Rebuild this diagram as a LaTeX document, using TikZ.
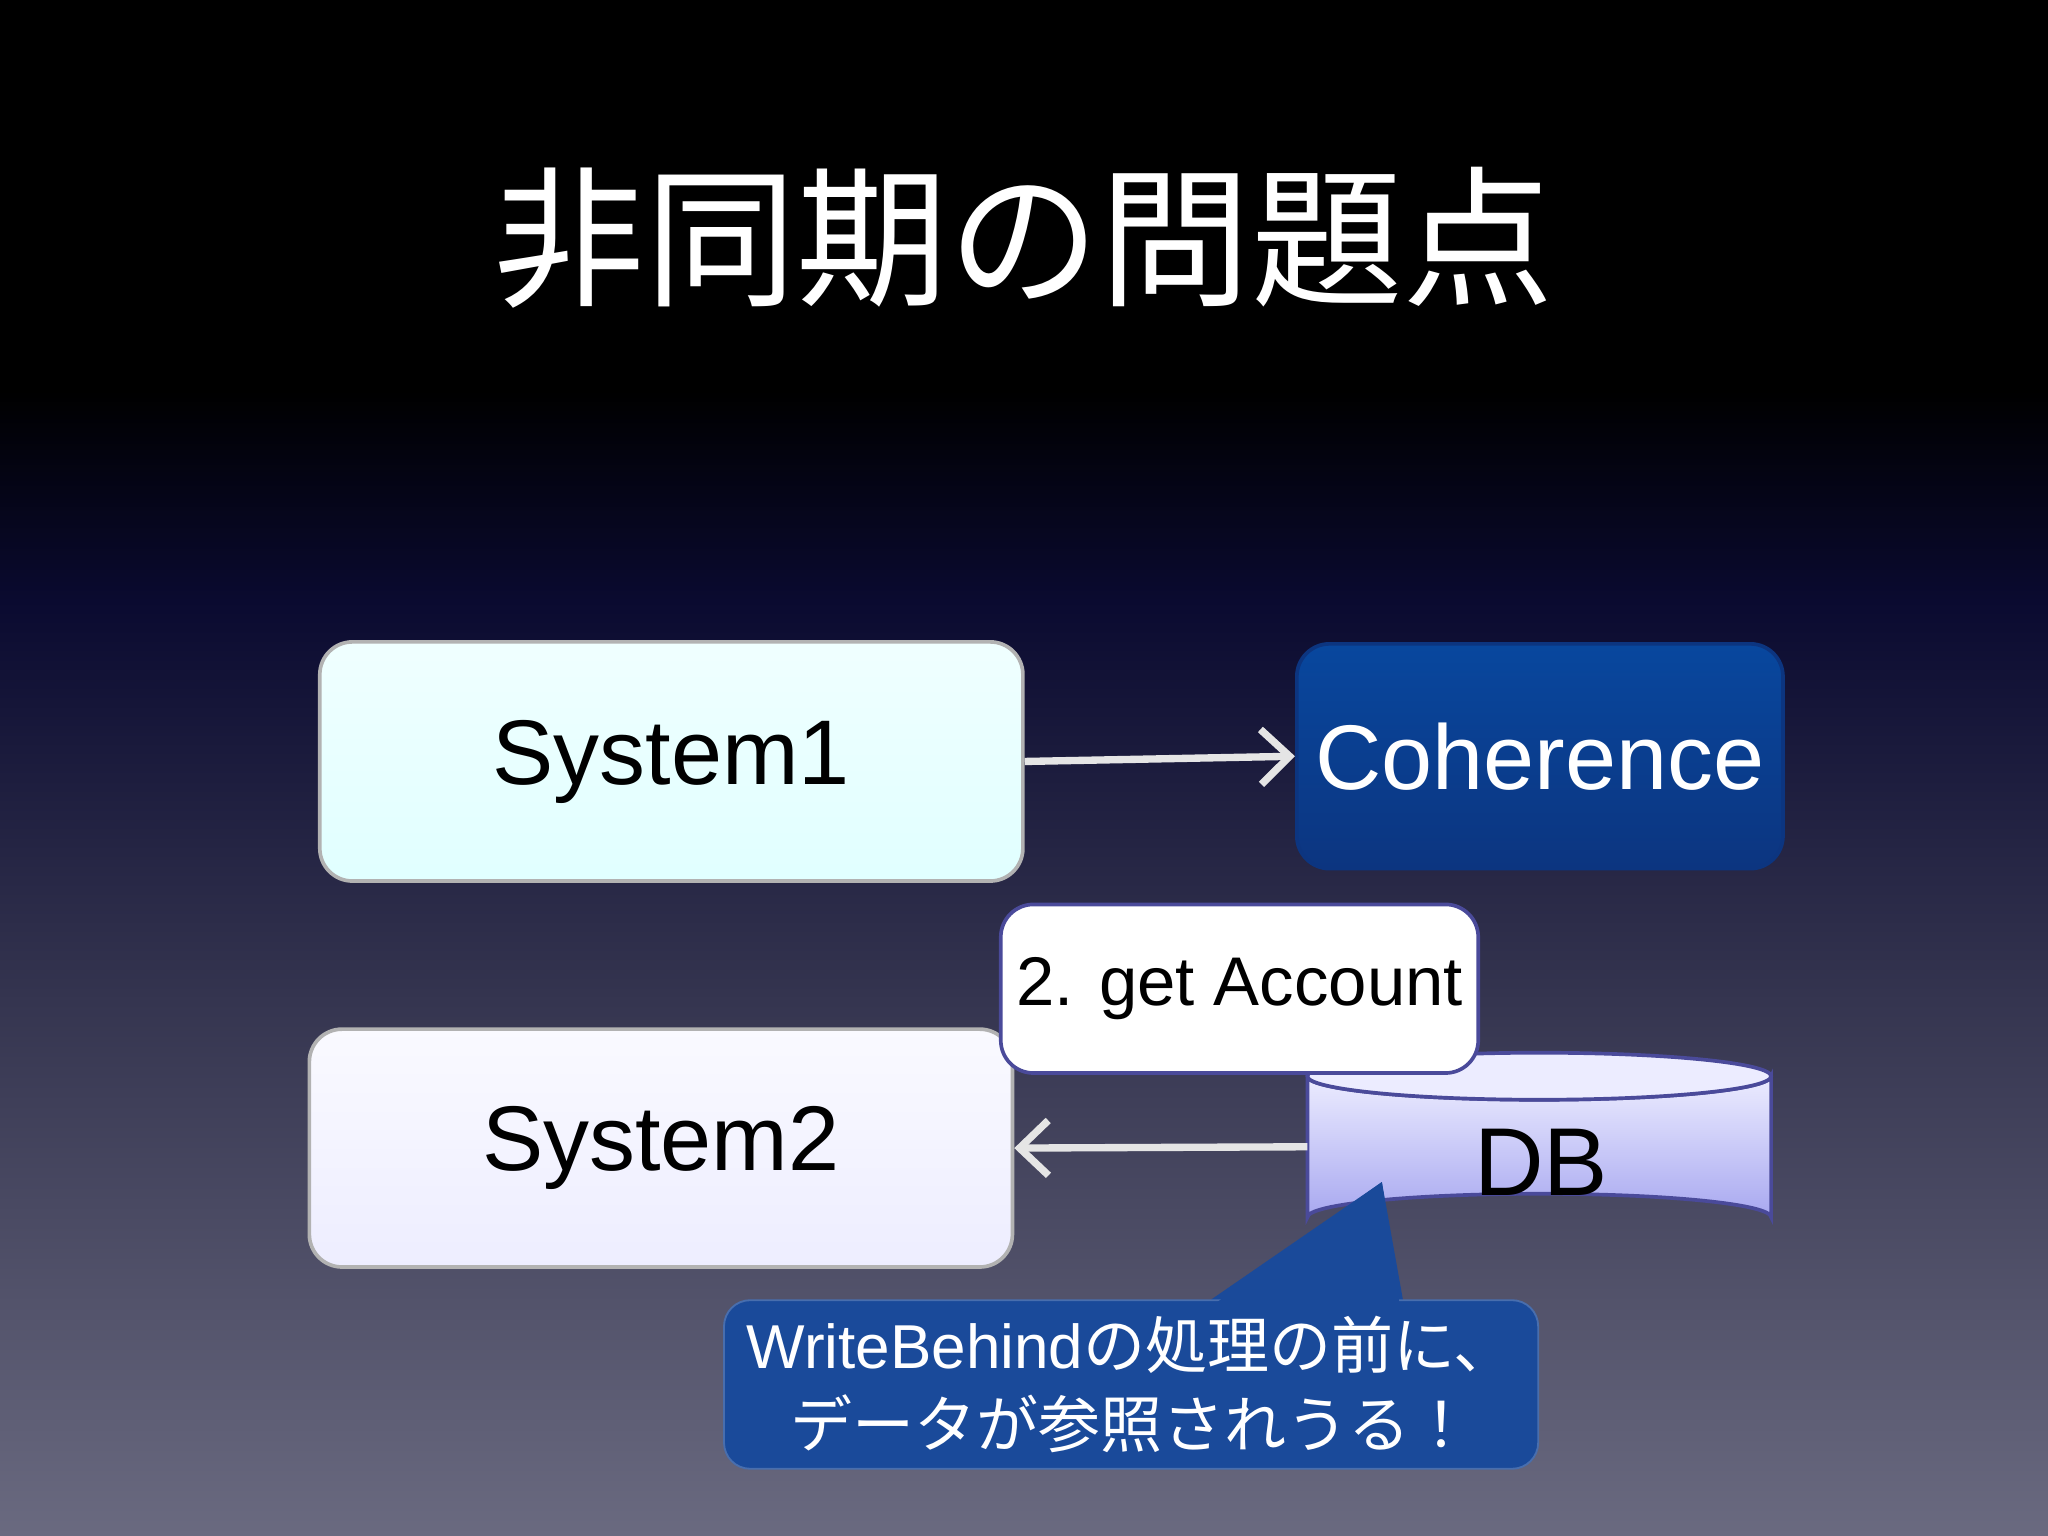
\documentclass[tikz,border=0pt]{standalone}
\usepackage{fontspec}
\setmainfont{Liberation Sans}
\newfontfamily\cjk{Noto Sans CJK JP}
\usetikzlibrary{arrows.meta,shapes.geometric}
\definecolor{navy}{HTML}{0A0A30}
\definecolor{midbg}{HTML}{34344F}
\definecolor{lowbg}{HTML}{6A6A80}
\definecolor{cohtop}{HTML}{08479E}
\definecolor{cohbot}{HTML}{0C3580}
\definecolor{calfill}{HTML}{1A4A9A}
\definecolor{dbtop}{HTML}{ECECFF}
\definecolor{dbbot}{HTML}{A8A8F0}
\definecolor{dbline}{HTML}{4A4A9A}
\tikzset{
  box/.style={rounded corners=0.25cm, draw=gray!60, line width=0.8pt, font=\fontsize{20}{24}\selectfont},
  conn/.style={draw=gray!20, line width=1.6pt, -{Straight Barb[length=0.22cm,width=0.42cm,line width=1.6pt]}},
}
\begin{document}
\begin{tikzpicture}[x=0.01cm,y=-0.01cm]
\useasboundingbox (0,0) rectangle (1568,1176);
\fill[black] (0,0) rectangle (1568,300);
\shade[top color=black, bottom color=navy] (0,299) rectangle (1568,460);
\shade[top color=navy, bottom color=midbg] (0,459) rectangle (1568,760);
\shade[top color=midbg, bottom color=lowbg] (0,759) rectangle (1568,1176);
\node[text=white, font=\cjk\fontsize{33}{36}\selectfont] (title) at (784,182) {非同期の問題点};
% boxes
\node[box, minimum width=5.38cm, minimum height=1.83cm, top color=white!94!cyan, bottom color=white!88!cyan] (s1) at (514,583) {System1};
\node[box, draw=cohbot, minimum width=3.72cm, minimum height=1.72cm, top color=cohtop, bottom color=cohbot, text=white] (coh) at (1179,579) {Coherence};
\node[box, minimum width=5.38cm, minimum height=1.82cm, top color=white!98!blue, bottom color=white!93!blue] (s2) at (506,879) {System2};
% DB cylinder
\coordinate (dbl) at (1001,878);
\path[top color=dbtop, bottom color=dbbot, draw=dbline, line width=0.8pt]
  (1001,824) -- (1001,932) arc[start angle=180, end angle=360, x radius=177.5, y radius=18] -- (1356,824) arc[start angle=0, end angle=180, x radius=177.5, y radius=18] -- cycle;
\draw[dbline, fill=dbtop, line width=0.8pt] (1178.5,824) ellipse[x radius=177.5, y radius=18];
\node[font=\fontsize{21}{24}\selectfont] (db) at (1180,890) {DB};
% label box
\node[box, draw=dbline, fill=white, minimum width=3.44cm, minimum height=1.29cm, font=\fontsize{15}{18}\selectfont] (get) at (949,757) {2. get Account};
% arrows
\draw[conn] (s1.east) -- (coh.west);
\draw[conn] (dbl) -- (s2.east);
% callout
\coordinate (tip) at (1058,905);
\fill[calfill] (920,1000) -- (tip) -- (1075,1000) -- cycle;
\node[rounded corners=0.2cm, fill=calfill, draw=calfill!80!white, minimum width=6.23cm, minimum height=1.29cm, text=white, font=\cjk\fontsize{13.5}{17}\selectfont, align=center] (call) at (866,1060) {{\rmfamily WriteBehind}の処理の前に、\\データが参照されうる！};
\fill[calfill] (925,1002) -- (tip) -- (1072,1002) -- cycle;
\end{tikzpicture}
\end{document}
